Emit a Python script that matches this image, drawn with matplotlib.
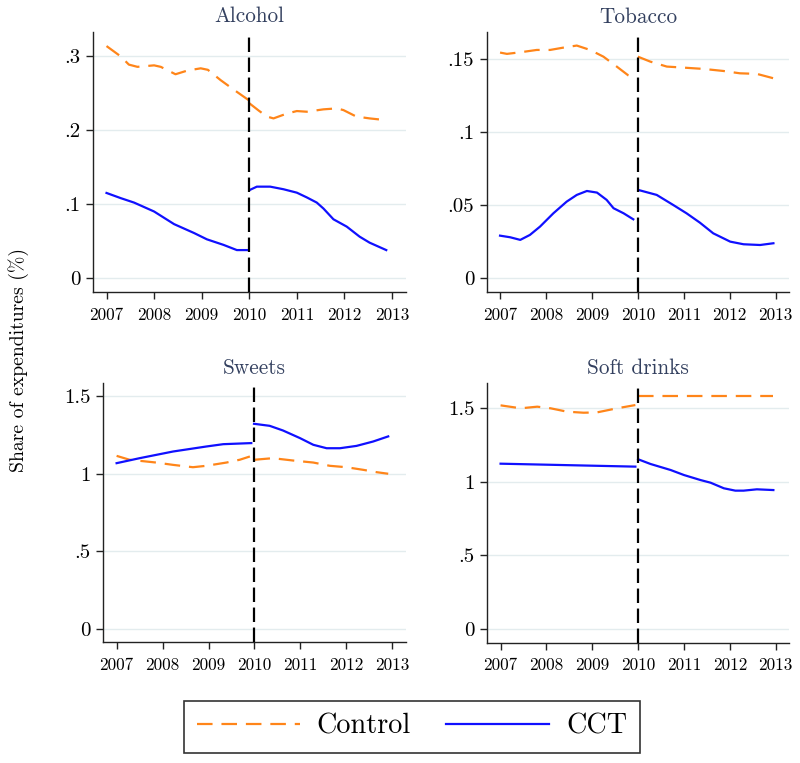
import matplotlib
matplotlib.use("Agg")
import matplotlib.pyplot as plt
from matplotlib.lines import Line2D

plt.rcParams['font.family'] = ['cmr10', 'DejaVu Serif']
plt.rcParams['axes.formatter.use_mathtext'] = True

# ---------------- data ----------------
titles = ["Alcohol", "Tobacco", "Sweets", "Soft drinks"]
year_ticks = [2007, 2008, 2009, 2010, 2011, 2012, 2013]
year_labels = ["2007", "2008", "2009", "2010", "2011", "2012", "2013"]

# Alcohol
alc_ctrl_pre_x = [2007.0, 2007.3, 2007.47, 2007.65, 2008.0, 2008.14, 2008.45, 2008.7, 2008.98, 2009.13, 2009.4, 2009.68, 2009.99]
alc_ctrl_pre_y = [0.313, 0.299, 0.288, 0.285, 0.287, 0.285, 0.275, 0.280, 0.283, 0.281, 0.267, 0.254, 0.240]
alc_ctrl_post_x = [2010.0, 2010.2, 2010.37, 2010.51, 2010.79, 2011.0, 2011.21, 2011.56, 2011.84, 2011.98, 2012.25, 2012.53, 2012.85]
alc_ctrl_post_y = [0.236, 0.226, 0.218, 0.2155, 0.222, 0.2254, 0.2245, 0.2277, 0.229, 0.2267, 0.218, 0.2155, 0.2133]
alc_cct_pre_x = [2007.0, 2007.3, 2007.58, 2008.0, 2008.42, 2008.84, 2009.11, 2009.46, 2009.74, 2009.95]
alc_cct_pre_y = [0.115, 0.108, 0.102, 0.090, 0.073, 0.061, 0.0525, 0.045, 0.038, 0.038]
alc_cct_post_x = [2010.01, 2010.16, 2010.44, 2010.72, 2011.0, 2011.21, 2011.42, 2011.56, 2011.77, 2012.05, 2012.32, 2012.53, 2012.88]
alc_cct_post_y = [0.119, 0.1235, 0.1235, 0.120, 0.1154, 0.109, 0.102, 0.094, 0.0795, 0.0696, 0.0561, 0.048, 0.038]

# Tobacco
tob_ctrl_pre_x = [2007.0, 2007.15, 2007.44, 2007.8, 2008.09, 2008.38, 2008.67, 2008.96, 2009.25, 2009.54, 2009.79, 2009.92]
tob_ctrl_pre_y = [0.1546, 0.1537, 0.1548, 0.1564, 0.1564, 0.158, 0.1594, 0.1564, 0.1518, 0.145, 0.139, 0.137]
tob_ctrl_post_x = [2010.0, 2010.27, 2010.63, 2010.99, 2011.43, 2011.86, 2012.22, 2012.59, 2012.95]
tob_ctrl_post_y = [0.1518, 0.1484, 0.145, 0.1443, 0.1434, 0.142, 0.1404, 0.140, 0.137]
tob_cct_pre_x = [2007.0, 2007.22, 2007.44, 2007.65, 2007.87, 2008.16, 2008.45, 2008.67, 2008.89, 2009.11, 2009.32, 2009.47, 2009.69, 2009.9]
tob_cct_pre_y = [0.0292, 0.0281, 0.0263, 0.0297, 0.0354, 0.0445, 0.0525, 0.0571, 0.0598, 0.0587, 0.0537, 0.048, 0.0445, 0.0404]
tob_cct_post_x = [2010.01, 2010.41, 2010.77, 2011.06, 2011.35, 2011.64, 2012.01, 2012.3, 2012.66, 2012.95]
tob_cct_post_y = [0.0605, 0.0571, 0.0502, 0.0445, 0.0381, 0.0308, 0.0251, 0.0233, 0.0228, 0.024]

# Sweets
swe_ctrl_pre_x = [2007.0, 2007.28, 2007.86, 2008.23, 2008.66, 2008.95, 2009.39, 2009.68, 2009.9]
swe_ctrl_pre_y = [1.114, 1.089, 1.071, 1.056, 1.041, 1.050, 1.071, 1.089, 1.110]
swe_ctrl_post_x = [2010.0, 2010.4, 2010.84, 2011.28, 2011.64, 2012.0, 2012.37, 2012.66, 2012.91]
swe_ctrl_post_y = [1.089, 1.099, 1.084, 1.071, 1.050, 1.041, 1.024, 1.009, 0.999]
swe_cct_pre_x = [2007.0, 2007.5, 2008.23, 2008.95, 2009.32, 2009.93]
swe_cct_pre_y = [1.067, 1.099, 1.142, 1.174, 1.189, 1.196]
swe_cct_post_x = [2009.99, 2010.33, 2010.62, 2010.99, 2011.28, 2011.57, 2011.86, 2012.22, 2012.58, 2012.91]
swe_cct_post_y = [1.320, 1.307, 1.277, 1.228, 1.185, 1.163, 1.163, 1.178, 1.206, 1.239]

# Soft drinks
sof_ctrl_pre_x = [2007.0, 2007.44, 2007.8, 2008.09, 2008.45, 2008.81, 2009.1, 2009.54, 2009.94]
sof_ctrl_pre_y = [1.518, 1.498, 1.509, 1.498, 1.475, 1.468, 1.470, 1.498, 1.520]
sof_ctrl_post_x = [2010.0, 2012.95]
sof_ctrl_post_y = [1.581, 1.581]
sof_cct_pre_x = [2007.0, 2009.94]
sof_cct_pre_y = [1.122, 1.102]
sof_cct_post_x = [2010.0, 2010.27, 2010.71, 2011.0, 2011.36, 2011.58, 2011.87, 2012.12, 2012.3, 2012.59, 2012.95]
sof_cct_post_y = [1.152, 1.120, 1.079, 1.045, 1.011, 0.993, 0.955, 0.939, 0.939, 0.948, 0.943]

y_ticks_small = [0, 0.1, 0.2, 0.3]
y_labels_small = ["0", ".1", ".2", ".3"]
y_ticks_tob = [0, 0.05, 0.1, 0.15]
y_labels_tob = ["0", ".05", ".1", ".15"]
y_ticks_big = [0, 0.5, 1.0, 1.5]
y_labels_big = ["0", ".5", "1", "1.5"]

cutoff_year = 2010

panels = [
    dict(title=titles[0], ctrl=[(alc_ctrl_pre_x, alc_ctrl_pre_y), (alc_ctrl_post_x, alc_ctrl_post_y)],
         cct=[(alc_cct_pre_x, alc_cct_pre_y), (alc_cct_post_x, alc_cct_post_y)],
         yt=y_ticks_small, yl=y_labels_small, ylim=(-0.0185, 0.332),
         pos=[0.1159, 0.6173, 0.3913, 0.3408]),
    dict(title=titles[1], ctrl=[(tob_ctrl_pre_x, tob_ctrl_pre_y), (tob_ctrl_post_x, tob_ctrl_post_y)],
         cct=[(tob_cct_pre_x, tob_cct_pre_y), (tob_cct_post_x, tob_cct_post_y)],
         yt=y_ticks_tob, yl=y_labels_tob, ylim=(-0.0096, 0.1685),
         pos=[0.6084, 0.6169, 0.3779, 0.3408]),
    dict(title=titles[2], ctrl=[(swe_ctrl_pre_x, swe_ctrl_pre_y), (swe_ctrl_post_x, swe_ctrl_post_y)],
         cct=[(swe_cct_pre_x, swe_cct_pre_y), (swe_cct_post_x, swe_cct_post_y)],
         yt=y_ticks_big, yl=y_labels_big, ylim=(-0.084, 1.58),
         pos=[0.1291, 0.1582, 0.378, 0.3394]),
    dict(title=titles[3], ctrl=[(sof_ctrl_pre_x, sof_ctrl_pre_y), (sof_ctrl_post_x, sof_ctrl_post_y)],
         cct=[(sof_cct_pre_x, sof_cct_pre_y), (sof_cct_post_x, sof_cct_post_y)],
         yt=y_ticks_big, yl=y_labels_big, ylim=(-0.093, 1.668),
         pos=[0.6091, 0.1577, 0.3771, 0.3400]),
]

ORANGE = '#ff8519'
BLUE = '#1010ff'
TITLE_C = '#33405f'
GRID_C = '#e3ecee'
AX_C = '#222222'

fig = plt.figure(figsize=(8.0, 7.63), dpi=100)

for p in panels:
    ax = fig.add_axes(p['pos'])
    for s in ['top', 'right']:
        ax.spines[s].set_visible(False)
    for s in ['left', 'bottom']:
        ax.spines[s].set_color(AX_C)
        ax.spines[s].set_linewidth(1.0)
    ax.set_xlim(2006.71, 2013.29)
    ax.set_ylim(*p['ylim'])
    ax.set_yticks(p['yt'])
    ax.set_yticklabels(p['yl'], fontsize=15)
    ax.set_xticks(year_ticks)
    ax.set_xticklabels(year_labels, fontsize=12.3)
    ax.tick_params(axis='both', direction='out', length=5, width=1.0, color=AX_C, labelcolor='black')
    ax.tick_params(axis='x', pad=6)
    ax.tick_params(axis='y', pad=4)
    ax.grid(axis='y', color=GRID_C, linewidth=1.0)
    ax.set_axisbelow(True)
    for (xs, ys) in p['ctrl']:
        ax.plot(xs, ys, color=ORANGE, linewidth=1.6, dashes=(7, 4), zorder=3)
    for (xs, ys) in p['cct']:
        ax.plot(xs, ys, color=BLUE, linewidth=1.6, zorder=3)
    ax.axvline(cutoff_year, color='black', linewidth=1.6, dashes=(6.5, 2.5), zorder=4)
    ax.set_title(p['title'], fontsize=15.3, color=TITLE_C, pad=7)

fig.text(0.023, 0.528, "Share of expenditures (%)", rotation=90, ha='center', va='center', fontsize=14.2)

handles = [Line2D([0], [0], color=ORANGE, linewidth=1.6, dashes=(7, 4)),
           Line2D([0], [0], color=BLUE, linewidth=1.6)]
leg = fig.legend(handles, ["Control", "CCT"], loc='center', bbox_to_anchor=(0.515, 0.0475),
                 ncol=2, fontsize=20.3, frameon=True, fancybox=False, shadow=False,
                 handlelength=3.65, handletextpad=0.6, columnspacing=1.25, borderpad=0.45)
leg.get_frame().set_edgecolor('black')
leg.get_frame().set_linewidth(1.2)

fig.savefig("out.png", dpi=100)
